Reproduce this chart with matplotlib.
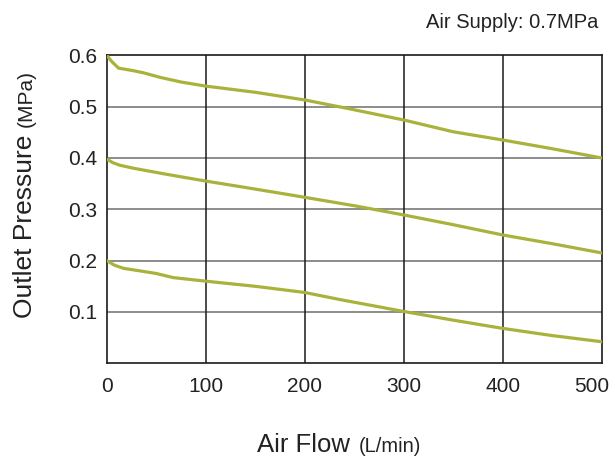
import matplotlib
matplotlib.use("Agg")
import matplotlib.pyplot as plt
import matplotlib.transforms as mtransforms

# ─── Data ─────────────────────────────────────────────────────────────────────
flow_top = [0, 5, 12, 27, 37, 54, 75, 100, 150, 200, 242, 300, 350, 400, 450, 500]
pres_top = [0.600, 0.588, 0.575, 0.570, 0.566, 0.557, 0.548, 0.540, 0.528,
            0.513, 0.497, 0.474, 0.451, 0.435, 0.418, 0.400]

flow_mid = [0, 6, 13, 27, 61, 100, 145, 195, 250, 300, 350, 400, 450, 500]
pres_mid = [0.398, 0.391, 0.386, 0.380, 0.368, 0.355, 0.341, 0.325,
            0.307, 0.289, 0.270, 0.250, 0.233, 0.215]

flow_low = [0, 8, 17, 37, 50, 67, 100, 150, 200, 236, 300, 350, 400, 450, 500]
pres_low = [0.200, 0.191, 0.185, 0.179, 0.175, 0.167, 0.160, 0.150, 0.138,
            0.124, 0.101, 0.084, 0.068, 0.054, 0.042]

x_ticks = [0, 100, 200, 300, 400, 500]
y_ticks = [0.1, 0.2, 0.3, 0.4, 0.5, 0.6]

LINE_COLOR = "#aab23c"
TEXT_COLOR = "#222222"
FONT = "Liberation Sans"

plt.rcParams["font.family"] = [FONT, "DejaVu Sans"]

fig = plt.figure(figsize=(6.15, 4.59), dpi=100)
ax = fig.add_axes([0.1735, 0.2085, 0.805, 0.671])

# grid: horizontal grey, vertical black
for y in y_ticks[:-1]:
    ax.axhline(y, color="#6e6e6e", lw=1.1, zorder=1)
for x in x_ticks[1:-1]:
    ax.axvline(x, color="#1a1a1a", lw=1.1, zorder=1)

for fx, py in [(flow_top, pres_top), (flow_mid, pres_mid), (flow_low, pres_low)]:
    ax.plot(fx, py, color=LINE_COLOR, lw=2.3, solid_capstyle="round", zorder=3)

ax.set_xlim(0, 500)
ax.set_ylim(0, 0.6)
ax.set_xticks(x_ticks)
ax.set_yticks(y_ticks)
ax.set_yticklabels([f"{v:.1f}" for v in y_ticks])
ax.tick_params(length=0, labelsize=15, colors=TEXT_COLOR)
ax.tick_params(axis="x", pad=10)
ax.tick_params(axis="y", pad=7)
for s in ax.spines.values():
    s.set_color("#1a1a1a")
    s.set_linewidth(1.2)

# last x label sits pulled in from the right edge, as in the original
last = ax.get_xticklabels()[-1]
last.set_transform(last.get_transform() +
                   mtransforms.ScaledTranslation(-0.10, 0, fig.dpi_scale_trans))

# ── labels with mixed sizes ───────────────────────────────────────────────────
W, H = 615, 459
fig.canvas.draw()
r = fig.canvas.get_renderer()

t1 = fig.text(256.7 / W, 1 - 452 / H, "Air Flow", fontsize=18.5,
              color=TEXT_COLOR, ha="left", va="baseline")
ext = t1.get_window_extent(r)
fig.text((ext.x1 + 9) / W, 1 - 452 / H, "(L/min)", fontsize=14.5,
         color=TEXT_COLOR, ha="left", va="baseline")

t2 = fig.text(32 / W, 1 - 318 / H, "Outlet Pressure", fontsize=19,
              color=TEXT_COLOR, rotation=90, rotation_mode="anchor",
              ha="left", va="baseline")
ext = t2.get_window_extent(r)
fig.text(32 / W, (ext.y1 + 8) / H, "(MPa)", fontsize=15,
         color=TEXT_COLOR, rotation=90, rotation_mode="anchor",
         ha="left", va="baseline")

fig.text(598 / W, 1 - 28 / H, "Air Supply: 0.7MPa", fontsize=14.5,
         color=TEXT_COLOR, ha="right", va="baseline")

fig.savefig("out.png", dpi=100)
